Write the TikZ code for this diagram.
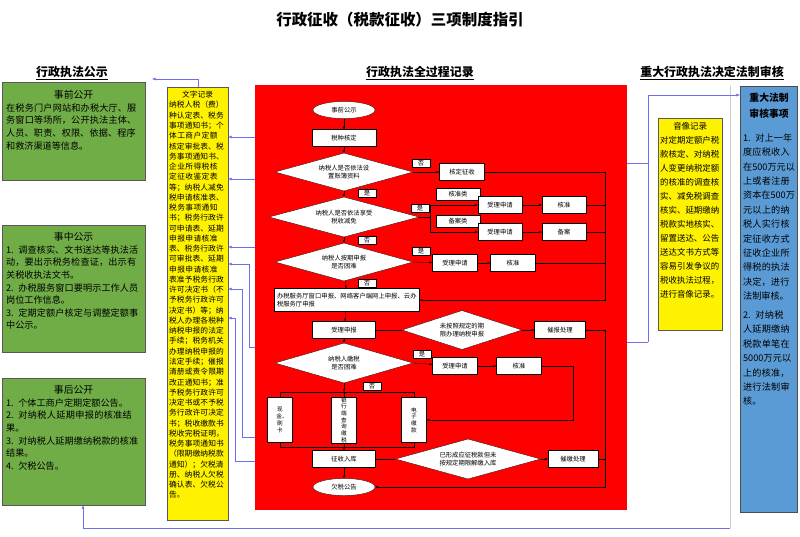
\documentclass[tikz,border=0pt]{standalone}
\usepackage{fontspec}
\setmainfont{Noto Sans CJK SC}
\XeTeXlinebreaklocale "zh"
\XeTeXlinebreakskip=0pt plus 1pt
\usetikzlibrary{shapes.geometric,arrows.meta}
\newcommand{\fs}[2]{\fontsize{#1}{#2}\selectfont}
\definecolor{pubgreen}{RGB}{112,173,71}
\definecolor{revblue}{RGB}{91,155,213}
\definecolor{linkblue}{RGB}{110,110,240}
\tikzset{
  box/.style={draw=black, fill=white, inner sep=1pt, font=\fs{9}{11}, minimum height=0.85cm},
  dia/.style={diamond, aspect=3.6, draw=black, fill=white, inner sep=0pt, font=\fs{9}{12}, align=center},
  yn/.style={draw=black, fill=white, inner sep=1.5pt, font=\fs{9}{11}, minimum width=0.9cm},
  oval/.style={ellipse, draw=black, fill=white, minimum width=3.1cm, minimum height=0.85cm, font=\fs{9}{11}},
  vbox/.style={box, text width=1em, align=center, font=\fs{8}{9.5}, minimum height=2.25cm, minimum width=1.25cm},
  pubbox/.style={draw=gray!70!black, fill=pubgreen},
  pubtext/.style={anchor=north west, text width=6.75cm, inner sep=0.2cm, font=\fs{13}{18}},
  arr/.style={-{Latex[length=4pt,width=3pt]}, black},
  barr/.style={-{Latex[length=5pt,width=4pt]}, linkblue},
  head/.style={font=\bfseries\fs{17}{20}}
}
\begin{document}
\begin{tikzpicture}[x=0.05cm,y=-0.05cm]
  \useasboundingbox (0,0) rectangle (800,536);
  % titles
  \node[font=\bfseries\fs{22}{26}] (title) at (400,20) {行政征收（税款征收）三项制度指引};
  \node[head] (h1) at (72,73) {\underline{行政执法公示}};
  \node[head] (h2) at (420,73) {\underline{行政执法全过程记录}};
  \node[head] (h3) at (712,73) {\underline{重大行政执法决定法制审核}};
  % left column
  \draw[pubbox] (2,82) rectangle (145,180);
  \node[pubtext] (pre) at (2,86) {{\centering\fs{14}{24}事前公开\par}\noindent 在税务门户网站和办税大厅、服务窗口等场所，公开执法主体、人员、职责、权限、依据、程序和救济渠道等信息。};
  \draw[pubbox] (2,225) rectangle (145,352);
  \node[pubtext] (mid) at (2,228) {{\centering\fs{14}{24}事中公示\par}\noindent 1. 调查核实、文书送达等执法活动，要出示税务检查证，出示有关税收执法文书。\\2. 办税服务窗口要明示工作人员岗位工作信息。\\3. 定期定额户核定与调整定额事中公示。};
  \draw[pubbox] (2,378) rectangle (145,505);
  \node[pubtext] (post) at (2,381) {{\centering\fs{14}{24}事后公开\par}\noindent 1. 个体工商户定期定额公告。\\2. 对纳税人延期申报的核准结果。\\3. 对纳税人延期缴纳税款的核准结果。\\4. 欠税公告。};
  % text record
  \draw[draw=gray!70!black, fill=yellow] (167,87) rectangle (228,520);
  \node[anchor=north west, text width=2.85cm, inner sep=0.1cm, font=\fs{11}{14.6}] (txt) at (167,89) {{\centering 文字记录\par}\noindent 纳税人税（费）种认定表、税务事项通知书；个体工商户定额核定审批表、税务事项通知书、企业所得税核定征收鉴定表等；纳税人减免税申请核准表、税务事项通知书；税务行政许可申请表、延期申报申请核准表、税务行政许可审批表、延期申报申请核准表准予税务行政许可决定书（不予税务行政许可决定书）等；纳税人办理各税种纳税申报的法定手续；税务机关办理纳税申报的法定手续；催报清册或责令限期改正通知书；准予税务行政许可决定书或不予税务行政许可决定书；税收缴款书税收完税证明，税务事项通知书（限期缴纳税款通知）；欠税清册、纳税人欠税确认表、欠税公告。};
  % red process area
  \fill[red] (255,85) rectangle (627,510);
  \node[oval] (pub0) at (344,110) {事前公示};
  \node[box, minimum width=3.2cm] (kind) at (344,138) {税种核定};
  \node[dia, minimum width=6.9cm, minimum height=1.9cm] (d1) at (344,172) {纳税人是否依法设\\置账簿资料};
  \node[box, minimum width=2.25cm] (fix) at (462,172) {核定征收};
  \node[dia, minimum width=7.5cm, minimum height=2cm] (d2) at (344,217) {纳税人是否依法享受\\税收减免};
  \node[box, minimum width=2.2cm, minimum height=0.6cm] (cls1) at (458,194) {核准类};
  \node[box, minimum width=2.2cm, minimum height=0.6cm] (cls2) at (458,221) {备案类};
  \node[box, minimum width=2.2cm] (acc1) at (500,205) {受理申请};
  \node[box, minimum width=2.2cm] (acc2) at (500,232) {受理申请};
  \node[box, minimum width=2.2cm] (ok1) at (564,205) {核准};
  \node[box, minimum width=2.2cm] (rec) at (564,232) {备案};
  \node[dia, minimum width=6.9cm, minimum height=1.9cm] (d3) at (344,262) {纳税人按期申报\\是否困难};
  \node[box, minimum width=2.25cm] (acc3) at (455,263) {受理申请};
  \node[box, minimum width=2.25cm] (ok2) at (513,263) {核准};
  \node[box, minimum width=7.25cm, minimum height=1.15cm, text width=7cm, align=left] (hall) at (347,300) {办税服务厅窗口申报、网络客户端网上申报、云办税服务厅申报};
  \node[box, minimum width=3.15cm] (acc) at (344,330) {受理申报};
  \node[dia, minimum width=6cm, minimum height=1.95cm] (d4) at (462,330) {未按照规定的期\\限办理纳税申报};
  \node[box, minimum width=2.55cm] (urge1) at (560,330) {催报处理};
  \node[dia, minimum width=6.9cm, minimum height=2cm] (d5) at (344,363) {纳税人缴税\\是否困难};
  \node[box, minimum width=2.25cm] (acc4) at (455,366) {受理申请};
  \node[box, minimum width=2.25cm] (ok3) at (519,366) {核准};
  \node[vbox] (cash) at (280,420) {现金、刷卡};
  \node[vbox] (bank) at (344,420) {银行端查询缴税};
  \node[vbox] (epay) at (414,420) {电子缴款};
  \node[box, minimum width=3.15cm] (store) at (344,459) {征收入库};
  \node[dia, minimum width=7.25cm, minimum height=2cm] (d6) at (468,459) {已形成应征税款但未\\按规定期限解缴入库};
  \node[box, minimum width=2.5cm] (urge2) at (573,459) {催缴处理};
  \node[oval] (pub1) at (344,487) {欠税公告};
  % yes / no labels
  \node[yn] (n1) at (421,163) {否};
  \node[yn] (y1) at (367,193) {是};
  \node[yn] (y2) at (420,208) {是};
  \node[yn] (n2) at (367,240) {否};
  \node[yn] (y3) at (421,251) {是};
  \node[yn] (n3) at (367,283) {否};
  \node[yn] (y4) at (422,354) {是};
  \node[yn] (n4) at (372,386) {否};
  % main flow
  \draw[arr] (pub0) -- (kind);
  \draw[arr] (kind) -- (d1);
  \draw[arr] (d1) -- (d2);
  \draw[arr] (d2) -- (d3);
  \draw[arr] (d3) -- (hall);
  \draw[arr] (hall) -- (acc);
  \draw[arr] (acc) -- (d5);
  \draw[arr] (d5.south) -- (344,392);
  \draw (cash.north) |- (epay.north |- 0,392) -- (epay.north);
  \draw (bank.north) -- (344,392);
  \draw (cash.south) |- (epay.south |- 0,447) -- (epay.south);
  \draw (bank.south) -- (344,447);
  \draw[arr] (344,447) -- (store);
  \draw[arr] (store) -- (pub1);
  % branches
  \draw[arr] (d1.east) -- (fix);
  \draw (d2.east) -- (430,217);
  \draw (430,205) -- (430,232);
  \draw[arr] (430,205) -- (acc1);
  \draw[arr] (430,232) -- (acc2);
  \draw[arr] (acc1) -- (ok1);
  \draw[arr] (acc2) -- (rec);
  \draw[arr] (d3.east) -- (acc3);
  \draw[arr] (acc3) -- (ok2);
  \draw[arr] (fix.east) -| (605,300) -- (hall.east);
  \draw (ok1.east) -- (605,205);
  \draw (rec.east) -- (605,232);
  \draw (ok2.east) -- (605,263);
  \draw (acc.east) -- (d4.west);
  \draw[arr] (d4.east) -- (urge1);
  \draw[arr] (d5.east) -- (acc4);
  \draw[arr] (acc4) -- (ok3);
  \draw[arr] (ok3.east) -| (573,420) -- (epay.east);
  \draw (store.east) -- (d6.west);
  \draw[arr] (d6.east) -- (urge2);
  \draw[arr] (urge1.east) -| (605,487) -- (pub1.east);
  \draw (urge2.east) -- (605,459);
  % audio-visual record and review
  \draw[draw=gray!70!black, fill=yellow] (658,118) rectangle (722,330);
  \node[anchor=north west, text width=3cm, inner sep=0.1cm, font=\fs{12}{20}] (av) at (658,120) {{\centering 音像记录\par}\noindent 对定期定额户税款核定、对纳税人变更纳税定额的核准的调查核实、减免税调查核实、延期缴纳税款实地核实、留置送达、公告送达文书方式等容易引发争议的税收执法过程，进行音像记录。};
  \draw[gray!40] (730,86) -- (730,528);
  \draw[draw=gray!60!black, fill=revblue] (740,86) rectangle (797,512);
  \node[anchor=north west, text width=2.6cm, inner sep=0.15cm, font=\fs{13}{20.5}] (rev) at (740,90) {{\centering\bfseries\fs{14}{22}重大法制\\审核事项\par}\vspace{14pt}\noindent 1. 对上一年度应税收入在500万元以上或者注册资本在500万元以上的纳税人实行核定征收方式征收企业所得税的执法决定，进行法制审核。\par\vspace{6pt}\noindent 2. 对纳税人延期缴纳税款单笔在5000万元以上的核准，进行法制审核。};
  % blue links
  \draw[barr] (255,137) -- (228,137);
  \draw[barr] (255,179) -- (228,179);
  \draw[barr] (255,247) -- (228,247);
  \draw[barr] (255,347) -| (249,264) -- (228,264);
  \draw[barr] (255,437) -| (242,289) -- (228,289);
  \draw[barr] (255,461) -| (235,318) -- (228,318);
  \draw[barr] (198,87) |- (152,79);
  \draw[linkblue] (627,163) -- (648,163);
  \draw[linkblue] (627,342) -- (648,342);
  \draw[barr] (648,342) -- (648,95) -- (740,95);
  \draw[barr] (730,528) -| (83,505);
\end{tikzpicture}
\end{document}
